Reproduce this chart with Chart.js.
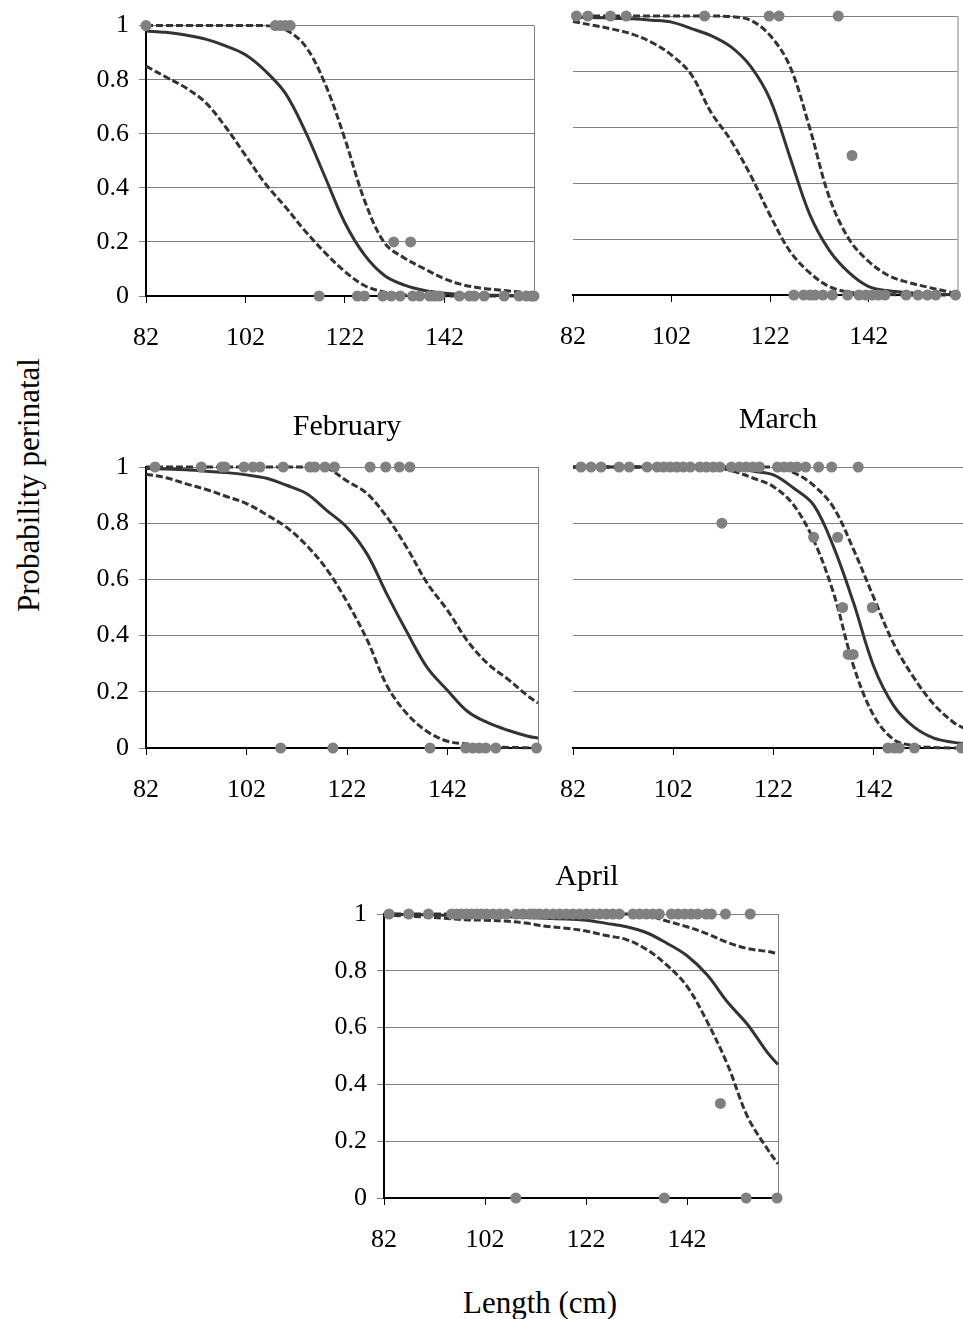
<!DOCTYPE html>
<html>
<head>
<meta charset="utf-8">
<script src="https://cdn.jsdelivr.net/npm/chart.js@4.4.1/dist/chart.umd.min.js"></script>
<style>
  body { margin: 0; background: #fff; overflow: hidden; }
  #page { position: relative; width: 963px; height: 1319px; }
  canvas { position: absolute; }
  .lbl { position: absolute; font-family: 'Liberation Serif', 'Times New Roman', serif; color: #000;
         line-height: 1; white-space: nowrap; transform: translate(-50%, -50%); }
</style>
</head>
<body>
<div id="page">
  <canvas id="c1" width="486" height="360" style="left:60px;top:0px"></canvas>
  <canvas id="c2" width="423" height="360" style="left:540px;top:0px"></canvas>
  <canvas id="c3" width="490" height="427" style="left:60px;top:385px"></canvas>
  <canvas id="c4" width="430" height="432" style="left:540px;top:380px"></canvas>
  <canvas id="c5" width="492" height="422" style="left:298px;top:840px"></canvas>

  <div class="lbl" style="left:347px;top:425px;font-size:30px">February</div>
  <div class="lbl" style="left:778px;top:418px;font-size:30px">March</div>
  <div class="lbl" style="left:587px;top:875px;font-size:30px">April</div>
  <div class="lbl" style="left:540px;top:1302px;font-size:31px">Length (cm)</div>
  <div class="lbl" style="left:28px;top:485px;font-size:31px;transform:translate(-50%,-50%) rotate(-90deg)">Probability perinatal</div>
</div>

<script>
const lengthGrid = [82, 86, 90, 94, 98, 102, 106, 110, 114, 118, 122, 126, 130, 134, 138, 142, 146, 150, 154, 158, 160];
const xTickValues = [82, 102, 122, 142];
const yTickValues = [0, 0.2, 0.4, 0.6, 0.8, 1];

// top left panel
const tlFit   = [0.98, 0.975, 0.965, 0.95, 0.925, 0.892, 0.832, 0.75, 0.61, 0.44, 0.27, 0.15, 0.075, 0.04, 0.02, 0.01, 0.005, 0.003, 0.002, 0.001, 0.001];
const tlLower = [0.85, 0.81, 0.77, 0.715, 0.625, 0.52, 0.415, 0.33, 0.24, 0.16, 0.09, 0.038, 0.014, 0.004, 0.001, 0, 0, 0, 0, 0, 0];
const tlUpper = [1, 1, 1, 1, 1, 1, 1, 0.985, 0.925, 0.785, 0.58, 0.35, 0.195, 0.14, 0.10, 0.064, 0.04, 0.028, 0.02, 0.014, 0.012];
const tlOnes  = [82, 108, 109, 110, 111];
const tlZeros = [116.8, 124.5, 125.9, 129.6, 131.3, 133.1, 135.6, 137, 139, 140, 141, 145, 147, 148, 150, 154, 157, 158.5, 159.5, 160];
const tlMidX  = [131.8, 135.2];
const tlMidY  = [0.2, 0.2];

// top right panel
const trFit   = [0.996, 0.995, 0.992, 0.99, 0.985, 0.978, 0.955, 0.93, 0.89, 0.82, 0.70, 0.495, 0.29, 0.16, 0.08, 0.03, 0.015, 0.008, 0.004, 0.002, 0.001];
const trLower = [0.98, 0.967, 0.953, 0.935, 0.905, 0.86, 0.79, 0.655, 0.555, 0.43, 0.285, 0.157, 0.08, 0.03, 0.01, 0.004, 0.002, 0, 0, 0, 0];
const trUpper = [1, 1, 1, 1, 1, 1, 1, 1, 0.998, 0.985, 0.93, 0.82, 0.60, 0.35, 0.20, 0.12, 0.07, 0.045, 0.028, 0.012, 0.005];
const trOnes  = [82.7, 85, 89.6, 92.8, 108.7, 121.8, 123.8, 135.8];
const trZeros = [126.8, 128.8, 130.1, 131.1, 132.7, 134.6, 137.7, 140, 141.4, 142.7, 144, 145.3, 149.6, 152, 153.9, 155.6, 159.6];
const trMidX  = [138.6];
const trMidY  = [0.5];

// February
const febFit   = [0.995, 0.993, 0.99, 0.985, 0.98, 0.972, 0.96, 0.935, 0.905, 0.845, 0.785, 0.69, 0.545, 0.41, 0.285, 0.205, 0.13, 0.09, 0.063, 0.042, 0.035];
const febLower = [0.974, 0.962, 0.94, 0.92, 0.895, 0.87, 0.83, 0.785, 0.72, 0.635, 0.52, 0.385, 0.22, 0.12, 0.058, 0.024, 0.014, 0.005, 0.002, 0.001, 0];
const febUpper = [1, 1, 1, 1, 1, 1, 1, 1, 1, 0.995, 0.95, 0.905, 0.82, 0.71, 0.585, 0.49, 0.38, 0.30, 0.245, 0.185, 0.16];
const febOnes  = [83.8, 93, 97.1, 97.7, 101.5, 103.3, 104.7, 109.3, 114.6, 115.6, 117.6, 119.5, 126.6, 129.7, 132.4, 134.5];
const febZeros = [108.8, 119.2, 138.5, 145.6, 147, 148.3, 149.6, 151.6, 159.7];
const febMidX  = [];
const febMidY  = [];

// March
const marFit   = [1, 1, 1, 1, 1, 1, 1, 1, 0.998, 0.985, 0.972, 0.925, 0.865, 0.715, 0.515, 0.29, 0.15, 0.075, 0.035, 0.02, 0.015];
const marLower = [1, 1, 1, 1, 1, 1, 1, 1, 0.985, 0.96, 0.93, 0.865, 0.74, 0.55, 0.29, 0.115, 0.03, 0.008, 0.002, 0, 0];
const marUpper = [1, 1, 1, 1, 1, 1, 1, 1, 1, 1, 1, 0.98, 0.935, 0.855, 0.705, 0.535, 0.37, 0.25, 0.155, 0.09, 0.07];
const marOnes  = [83.6, 85.6, 87.6, 91.2, 93.2, 96.8, 98.8, 100.1, 101.4, 102.7, 104, 105.4, 107.3, 108.6, 110, 111.3,
                  113.6, 115.2, 116.5, 117.9, 119.2, 122.8, 124.1, 125.4, 126.7, 128.4, 131, 133.6, 138.9];
const marZeros = [144.8, 146.1, 147.1, 150.1, 159.5];
const marMidX  = [111.7, 130, 134.8, 135.8, 141.7, 136.9, 137.9];
const marMidY  = [0.8, 0.75, 0.75, 0.5, 0.5, 0.333, 0.333];

// April
const aprFit   = [1, 0.998, 0.997, 0.996, 0.995, 0.993, 0.99, 0.988, 0.985, 0.982, 0.978, 0.967, 0.955, 0.934, 0.897, 0.853, 0.785, 0.69, 0.61, 0.51, 0.47];
const aprLower = [0.997, 0.993, 0.99, 0.985, 0.98, 0.978, 0.975, 0.968, 0.957, 0.95, 0.94, 0.924, 0.91, 0.875, 0.82, 0.745, 0.62, 0.47, 0.285, 0.17, 0.12];
const aprUpper = [1, 1, 1, 1, 1, 1, 1, 1, 1, 1, 1, 1, 1, 0.995, 0.975, 0.955, 0.93, 0.90, 0.878, 0.868, 0.86];
const aprOnes  = [83, 86.9, 90.8, 95.4, 96.4, 97.3, 98.3, 99.3, 100.3, 101.3, 102.3, 103.6, 104.9, 106.2, 108.2, 109.5,
                  110.9, 111.8, 112.8, 114.1, 115.5, 116.8, 118.1, 119.4, 120.7, 122.1, 123.4, 124.7, 126, 127.3, 128.6,
                  131.3, 132.6, 133.9, 135.2, 136.5, 138.9, 140.2, 141.5, 142.8, 144.1, 145.8, 146.8, 149.6, 154.5];
const aprZeros = [108.1, 137.5, 153.7, 159.8];
const aprMidX  = [148.6];
const aprMidY  = [0.333];

const SERIF = "'Liberation Serif', 'Times New Roman', serif";
Chart.defaults.font.family = SERIF;
Chart.defaults.color = '#000';

const GRID = '#808080';
const LINE = '#333333';
const DOT = '#808080';

// gray right edge of the plot area
const rightFrame = {
    id: 'rightFrame',
    beforeDatasetsDraw(chart) {
        const { ctx, chartArea } = chart;
        ctx.save();
        ctx.strokeStyle = GRID;
        ctx.lineWidth = 1;
        ctx.beginPath();
        ctx.moveTo(chartArea.right + 0.5, chartArea.top);
        ctx.lineTo(chartArea.right + 0.5, chartArea.bottom);
        ctx.stroke();
        ctx.restore();
    }
};

function curve(values) {
    return lengthGrid.map((x, i) => ({ x: x, y: values[i] }));
}

function makePanel(id, fit, lower, upper, ones, zeros, midX, midY, box) {
    const dots = ones.map(x => ({ x: x, y: 1 }))
        .concat(zeros.map(x => ({ x: x, y: 0 })))
        .concat(midX.map((x, i) => ({ x: x, y: midY[i] })));

    const lineStyle = {
        showLine: true,
        borderColor: LINE,
        borderWidth: 3,
        pointRadius: 0,
        tension: 0.35,
        clip: false,
        order: 1
    };

    return new Chart(document.getElementById(id), {
        type: 'scatter',
        data: {
            datasets: [
                { label: 'observed', data: dots, pointRadius: 5.5, pointBackgroundColor: DOT,
                  pointBorderWidth: 0, showLine: false, clip: false, order: 0 },
                Object.assign({ label: 'fit', data: curve(fit) }, lineStyle),
                Object.assign({ label: 'lower', data: curve(lower), borderDash: [7, 3] }, lineStyle),
                Object.assign({ label: 'upper', data: curve(upper), borderDash: [7, 3] }, lineStyle)
            ]
        },
        options: {
            responsive: false,
            animation: false,
            layout: { padding: { top: box.top, right: box.right, left: 0, bottom: 0 } },
            plugins: { legend: { display: false }, tooltip: { enabled: false } },
            scales: {
                x: {
                    type: 'linear',
                    min: 82,
                    max: 160,
                    afterBuildTicks: s => { s.ticks = xTickValues.map(v => ({ value: v })); },
                    afterFit: s => { s.height = box.xHeight; },
                    grid: { drawOnChartArea: false, drawTicks: true, tickLength: 7, tickColor: '#000' },
                    border: { color: '#000', width: 2 },
                    ticks: { font: { family: SERIF, size: 26 }, padding: 20, maxRotation: 0 }
                },
                y: {
                    min: 0,
                    max: 1,
                    afterBuildTicks: s => { s.ticks = yTickValues.map(v => ({ value: v })); },
                    afterFit: s => { s.width = box.yWidth; },
                    grid: {
                        color: ctx => (ctx.tick && ctx.tick.value === 0) ? 'rgba(0,0,0,0)' : GRID,
                        tickColor: GRID,
                        tickLength: 7,
                        drawTicks: box.labels
                    },
                    border: { display: box.labels, color: '#000', width: 2 },
                    ticks: { display: box.labels, font: { family: SERIF, size: 26 }, padding: 10,
                             callback: v => String(v) }
                }
            }
        },
        plugins: [rightFrame]
    });
}

makePanel('c1', tlFit, tlLower, tlUpper, tlOnes, tlZeros, tlMidX, tlMidY,
          { top: 18, right: 12, yWidth: 86, xHeight: 64, labels: true });
makePanel('c2', trFit, trLower, trUpper, trOnes, trZeros, trMidX, trMidY,
          { top: 16, right: 4, yWidth: 28, xHeight: 65, labels: false });
makePanel('c3', febFit, febLower, febUpper, febOnes, febZeros, febMidX, febMidY,
          { top: 82, right: 12, yWidth: 86, xHeight: 64, labels: true });
makePanel('c4', marFit, marLower, marUpper, marOnes, marZeros, marMidX, marMidY,
          { top: 87, right: 6, yWidth: 28, xHeight: 64, labels: false });
makePanel('c5', aprFit, aprLower, aprUpper, aprOnes, aprZeros, aprMidX, aprMidY,
          { top: 74, right: 12, yWidth: 86, xHeight: 64, labels: true });
</script>
</body>
</html>
